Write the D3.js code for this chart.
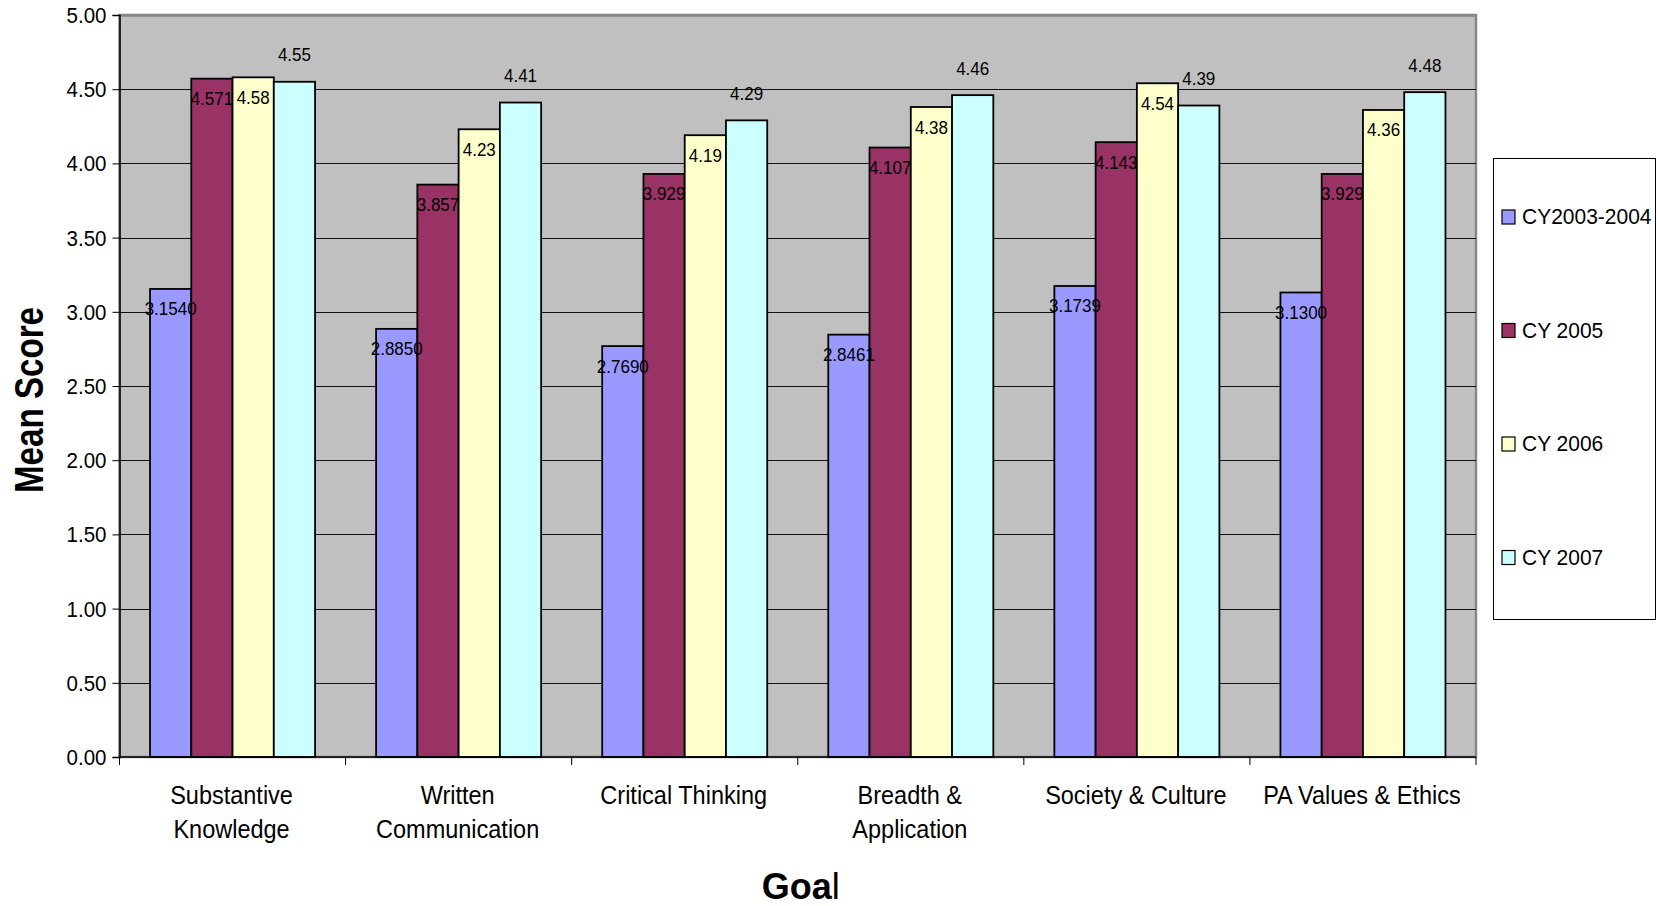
<!DOCTYPE html>
<html>
<head>
<meta charset="utf-8">
<script src="https://cdn.jsdelivr.net/npm/d3@7"></script>
<style>
  html, body { margin: 0; padding: 0; background: #fff; }
  svg { display: block; font-family: "Liberation Sans", Arial, sans-serif; }
</style>
</head>
<body>
<svg id="chart" width="1658" height="906"></svg>
<script>
// ---------- data ----------
const categories = ["Substantive Knowledge", "Written Communication", "Critical Thinking",
                    "Breadth & Application", "Society & Culture", "PA Values & Ethics"];
const categoryLines = [["Substantive", "Knowledge"], ["Written", "Communication"], ["Critical Thinking"],
                       ["Breadth &", "Application"], ["Society & Culture"], ["PA Values & Ethics"]];
const seriesNames = ["CY2003-2004", "CY 2005", "CY 2006", "CY 2007"];
const cy2003_2004 = [3.1540, 2.8850, 2.7690, 2.8461, 3.1739, 3.1300];
const cy2005      = [4.571, 3.857, 3.929, 4.107, 4.143, 3.929];
const cy2006      = [4.58, 4.23, 4.19, 4.38, 4.54, 4.36];
const cy2007      = [4.55, 4.41, 4.29, 4.46, 4.39, 4.48];
const labelDecimals = [4, 3, 2, 2];
const yTicks = [0, 0.5, 1, 1.5, 2, 2.5, 3, 3.5, 4, 4.5, 5];
const yTitle = "Mean Score";
const xTitle = "Goal";

const seriesValues = [cy2003_2004, cy2005, cy2006, cy2007];
const colors = ["#9999FF", "#993366", "#FFFFCC", "#CCFFFF"];

// ---------- layout ----------
const plot = { left: 119.5, right: 1476, top: 15, bottom: 757 };
const STRETCH = 1.07;
const svg = d3.select("#chart");

const y = d3.scaleLinear().domain([0, 5]).range([plot.bottom, plot.top]);
const x0 = d3.scaleBand().domain(categories).range([plot.left, plot.right]).padding(0);
const bw = x0.bandwidth();
const x1 = d3.scaleBand().domain(seriesNames).range([bw * 0.135, bw * 0.865]).padding(0);

function sText(parent, x, yy, str, size, anchor) {
  return parent.append("text")
    .attr("transform", `translate(${x},${yy}) scale(1,${STRETCH})`)
    .attr("text-anchor", anchor || "middle")
    .attr("font-size", size)
    .attr("fill", "#000")
    .text(str);
}

// plot background
svg.append("rect")
  .attr("x", plot.left).attr("y", plot.top)
  .attr("width", plot.right - plot.left).attr("height", plot.bottom - plot.top)
  .attr("fill", "#C0C0C0").attr("stroke", "#888").attr("stroke-width", 2.5);

// gridlines
svg.append("g").selectAll("line").data(yTicks.filter(t => t > 0)).join("line")
  .attr("x1", plot.left).attr("x2", plot.right)
  .attr("y1", d => Math.round(y(d)) + 0.5).attr("y2", d => Math.round(y(d)) + 0.5)
  .attr("stroke", d => d === 5 ? "#888" : "#111").attr("stroke-width", d => d === 5 ? 2.5 : 1);

// bars
const groups = svg.append("g").selectAll("g").data(categories).join("g")
  .attr("transform", c => `translate(${x0(c)},0)`);
groups.each(function (c, ci) {
  const g = d3.select(this);
  seriesNames.forEach((s, si) => {
    const v = seriesValues[si][ci];
    g.append("rect")
      .attr("x", x1(s)).attr("y", y(v))
      .attr("width", x1.bandwidth()).attr("height", y(0) - y(v))
      .attr("fill", colors[si]).attr("stroke", "#000").attr("stroke-width", 1.8);
  });
});

// data labels
groups.each(function (c, ci) {
  const g = d3.select(this);
  seriesNames.forEach((s, si) => {
    const v = seriesValues[si][ci];
    const cx = x1(s) + x1.bandwidth() / 2;
    const cy = si === 3 ? y(v) - 27 : y(v) + 20;
    sText(g, cx, cy + 6.5, v.toFixed(labelDecimals[si]), 17);
  });
});

// y axis
const yAxis = d3.axisLeft(y).tickValues(yTicks).tickFormat(d3.format(".2f")).tickSize(7).tickPadding(13);
const ya = svg.append("g").attr("transform", `translate(${plot.left},0)`).call(yAxis);
ya.select(".domain").attr("stroke", "#000").attr("stroke-width", 1.5);
ya.selectAll(".tick line").attr("stroke", "#000");
ya.selectAll(".tick text").remove();
ya.selectAll(".tick").each(function (d) {
  sText(d3.select(this), -13, 7.5, d3.format(".2f")(d), 20.5, "end");
});

// x axis line + boundary ticks
svg.append("line").attr("x1", plot.left).attr("x2", plot.right)
  .attr("y1", plot.bottom).attr("y2", plot.bottom).attr("stroke", "#000").attr("stroke-width", 1.5);
const boundaries = categories.map(c => x0(c)).concat([x0.range()[1]]);
svg.append("g").selectAll("line").data(boundaries).join("line")
  .attr("x1", d => d).attr("x2", d => d)
  .attr("y1", plot.bottom).attr("y2", plot.bottom + 8)
  .attr("stroke", "#000").attr("stroke-width", 1);

// category labels
categories.forEach((c, ci) => {
  categoryLines[ci].forEach((line, li) => {
    sText(svg, x0(c) + bw / 2 - 1, 804 + li * 34, line, 23.5);
  });
});

// axis titles
svg.append("text")
  .attr("transform", "translate(43,400) rotate(-90)")
  .attr("text-anchor", "middle")
  .attr("font-size", 40).attr("font-weight", "bold")
  .attr("textLength", 186).attr("lengthAdjust", "spacingAndGlyphs")
  .text(yTitle);

const gt = svg.append("text")
  .attr("x", (plot.left + plot.right) / 2 + 3).attr("y", 899)
  .attr("text-anchor", "middle").attr("font-size", 36);
gt.append("tspan").attr("font-weight", "bold").text(xTitle.slice(0, -1));
gt.append("tspan").attr("font-weight", "normal").text(xTitle.slice(-1));

// legend
const leg = svg.append("g");
leg.append("rect").attr("x", 1493.5).attr("y", 158.5).attr("width", 162).attr("height", 461)
  .attr("fill", "#fff").attr("stroke", "#000").attr("stroke-width", 1);
seriesNames.forEach((s, si) => {
  const ry = 216 + si * 113.5;
  leg.append("rect").attr("x", 1502).attr("y", ry - 6).attr("width", 13).attr("height", 14)
    .attr("fill", colors[si]).attr("stroke", "#000").attr("stroke-width", 1.2);
  sText(leg, 1522, ry + 8, s, 21, "start");
});
</script>
</body>
</html>
